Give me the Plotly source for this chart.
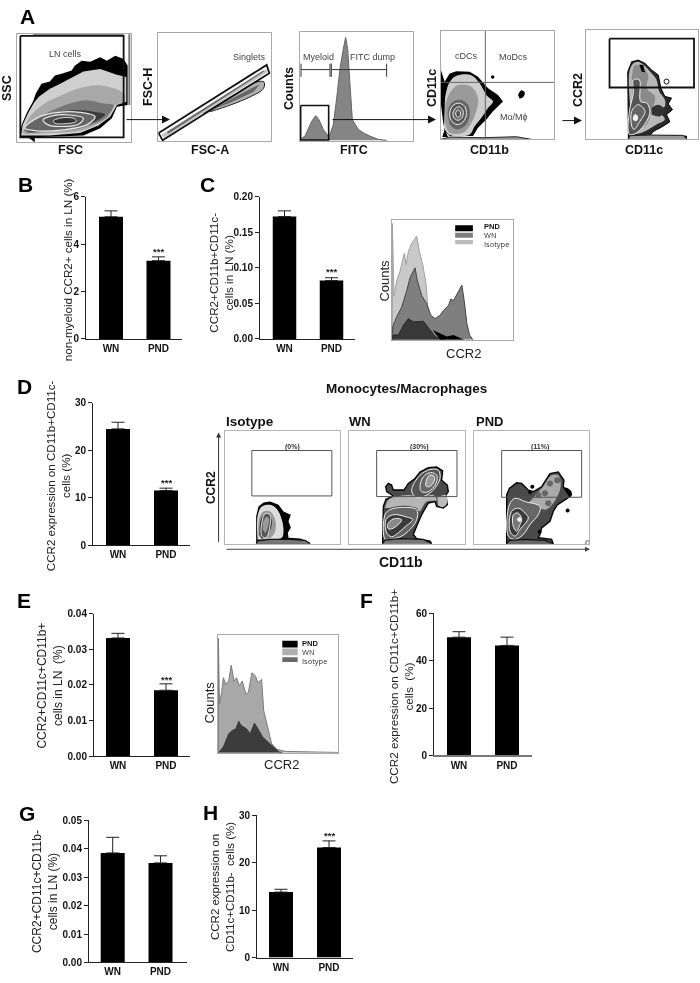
import plotly.graph_objects as go

W, H = 700, 983
FONT = "Liberation Sans"

# ---------- bar chart data ----------
groups = ["WN", "PND"]
b_values = [5.15, 3.3];      b_errors = [0.25, 0.16];     b_ticks = [0, 2, 4, 6]
c_values = [0.172, 0.082];   c_errors = [0.008, 0.004];   c_ticks = [0, 0.05, 0.10, 0.15, 0.20]
d_values = [24.5, 11.5];     d_errors = [1.4, 0.5];       d_ticks = [0, 10, 20, 30]
e_values = [0.0332, 0.0185]; e_errors = [0.0013, 0.0018]; e_ticks = [0, 0.01, 0.02, 0.03, 0.04]
f_values = [50, 46.5];       f_errors = [2.3, 3.5];       f_ticks = [0, 20, 40, 60]
g_values = [0.0385, 0.035];  g_errors = [0.0055, 0.0025]; g_ticks = [0, 0.01, 0.02, 0.03, 0.04, 0.05]
h_values = [13.8, 23.2];     h_errors = [0.6, 1.4];       h_ticks = [0, 10, 20, 30]

# ---------- histogram outlines (channel, count units) ----------
FITC_HIST = [(15,348),(20,342),(30,335),(40,315),(50,290),(62,273),(72,285),(85,315),(100,335),(105,330),(115,300),(125,220),(135,130),(145,70),(152,35),(158,70),(165,170),(172,285),(190,315),(205,325),(225,335),(250,345),(275,348)]
C_ISOTYPE = [(1177,520),(1177,165),(1182,385),(1190,340),(1200,310),(1208,270),(1213,255),(1218,290),(1225,250),(1235,225),(1250,203),(1258,250),(1268,290),(1278,350),(1283,420),(1290,450),(1300,490),(1310,510),(1330,518),(1340,520)]
C_WN = [(1178,520),(1178,480),(1190,450),(1205,420),(1220,370),(1230,330),(1245,300),(1252,340),(1265,385),(1280,410),(1292,445),(1305,455),(1320,445),(1330,430),(1345,415),(1352,395),(1360,400),(1370,380),(1385,353),(1392,400),(1400,470),(1408,505),(1418,520)]
C_PND = [(1178,520),(1180,505),(1195,505),(1210,475),(1225,455),(1240,465),(1270,463),(1290,490),(1305,510),(1320,518),(1335,520)]
C_PND2 = [(1298,490),(1320,500),(1340,510),(1360,505),(1380,515),(1392,520),(1320,520)]
E_WN = [(611,528),(611,180),(614,380),(620,345),(625,300),(632,320),(640,310),(647,262),(655,310),(662,300),(670,325),(678,310),(688,350),(695,345),(705,285),(715,295),(722,315),(732,305),(738,400),(750,450),(760,500),(775,518),(800,524),(946,527),(946,528)]
E_PND = [(611,528),(625,510),(640,470),(650,460),(660,455),(668,432),(675,445),(690,455),(700,470),(712,438),(722,455),(735,480),(750,495),(765,510),(780,525),(790,528)]

# ---------- flow cytometry density contours (channel units) ----------
A1_L0 = [(60,398),(66,360),(82,322),(100,288),(108,265),(125,235),(150,228),(165,210),(185,205),(215,195),(225,180),(245,165),(270,168),(300,155),(320,165),(345,150),(370,160),(382,180),(382,300),(350,305),(335,340),(300,370),(250,392),(150,396)]
A1_L1 = [(64,392),(69,360),(85,325),(103,292),(118,274),(135,262),(150,250),(175,238),(215,218),(250,198),(300,190),(350,208),(378,215),(378,290),(350,300),(330,335),(295,362),(240,385),(150,392),(75,392)]
A1_L2 = [(68,385),(90,335),(130,298),(190,268),(240,248),(300,240),(370,265),(372,290),(345,300),(325,335),(290,358),(240,378),(150,385),(80,388)]
A1_L3 = [(72,378),(115,340),(160,315),(210,295),(260,285),(310,295),(340,300),(320,335),(285,355),(235,372),(150,380),(85,385)]
A1_L4 = [(80,375),(130,335),(180,320),(230,315),(280,320),(315,328),(285,350),(230,368),(150,377),(90,382)]
A1_R1 = [(75,370),(120,335),(175,322),(240,322),(285,335),(260,360),(190,375),(110,378),(75,370)]
A1_R2 = [(130,345),(160,332),(210,330),(250,340),(235,358),(185,365),(145,360),(130,345)]
A1_R3 = [(160,348),(190,338),(225,342),(228,350),(190,357),(165,355),(160,348)]
A1_EDGE = [(384,85),(390,85),(390,300),(384,300)]
A1_TOP = [(100,85),(370,85),(370,90),(100,90)]
A1_FOOT = [(85,398),(105,398),(105,413),(95,405)]
A1_GATE = [(62,90),(370,90),(370,398),(62,398),(62,90)]

A2_GATE = [(475,385),(800,178),(808,203),(487,407),(475,385)]
A2_STRIPE = [(483,390),(798,190),(802,200),(492,400)]
A2_CORE = [(500,382),(790,195),(792,198),(503,387)]
A2_TAIL = [(610,325),(700,270),(770,230),(792,230),(790,250),(750,275),(690,300),(630,320)]
A2_TAIL2 = [(640,312),(710,272),(780,236),(760,260),(690,293)]

A3_MYELOID = [(18,133),(105,133)]
A3_CAP1 = [(18,115),(18,155)]
A3_CAP2 = [(105,115),(105,155)]
A3_CAP3 = [(109,115),(109,155)]
A3_DUMP = [(109,133),(275,133)]
A3_CAP4 = [(275,115),(275,155)]
A3_GATE = [(17,242),(101,242),(101,347),(17,347),(17,242)]

A4_QV = [(407,75),(407,405)]
A4_QH = [(274,232),(613,232)]
A4_L0 = [(274,195),(285,230),(300,205),(320,198),(360,200),(385,215),(415,250),(445,270),(460,290),(430,320),(410,345),(385,370),(370,395),(300,395),(285,380),(280,350),(274,300)]
A4_L1 = [(286,280),(298,235),(320,212),(365,210),(390,235),(410,270),(430,290),(415,310),(395,340),(375,365),(360,390),(300,392),(283,370)]
A4_L2 = [(287,300),(300,265),(325,240),(365,245),(385,280),(380,320),(365,355),(340,385),(300,385),(286,355)]
A4_L3 = [(293,325),(305,295),(330,285),(355,300),(360,335),(345,365),(320,375),(300,360)]
A4_R1 = [(300,325),(310,302),(328,295),(345,305),(350,330),(340,352),(322,360),(305,348),(300,325)]
A4_R2 = [(310,325),(318,310),(330,306),(340,318),(338,338),(325,347),(313,340),(310,325)]
A4_R3 = [(318,325),(325,316),(332,322),(331,335),(323,338),(318,325)]
A4_STRIP = [(274,405),(300,398),(400,400),(500,397),(545,405)]
A4_FOOT = [(278,398),(285,375),(295,398)]
A4_SPOT = [(505,270),(515,256),(525,262),(522,275),(510,282)]
A4_DOT_X = [429]; A4_DOT_Y = [216]

A5_GATE = [(778,100),(1033,100),(1033,248),(778,248),(778,100)]
A5_L0 = [(835,405),(833,200),(845,170),(865,165),(885,175),(905,195),(925,210),(933,250),(945,275),(965,280),(955,298),(968,315),(950,330),(960,352),(935,368),(912,380),(900,393),(1010,395),(1010,405)]
A5_L1 = [(840,300),(838,200),(850,175),(870,172),(905,205),(920,225),(928,260),(945,285),(945,305),(930,320),(945,345),(920,360),(895,375),(875,385),(845,390)]
A5_L2 = [(845,220),(855,180),(875,185),(895,210),(890,250),(915,275),(905,320),(890,360),(870,370),(850,330)]
A5_SPOT = [(905,310),(925,300),(945,315),(930,335),(905,330)]
A5_TICK = [(868,178),(880,180),(885,202),(875,200)]
A5_R1 = [(838,390),(838,320),(850,265),(850,225),(868,225),(872,290),(890,295),(900,320),(890,350),(860,385),(838,390)]
A5_R2 = [(845,365),(845,320),(865,300),(885,320),(870,350),(852,375),(845,365)]
A5_R3 = [(850,345),(855,330),(862,335),(860,348),(850,345)]
A5_STRIP = [(835,405),(840,394),(900,392),(1000,393),(1012,405)]
A5_DOT_X = [950]; A5_DOT_Y = [230]

D_ISO_L0 = [(108,313),(108,230),(115,200),(130,188),(150,185),(175,195),(190,215),(212,225),(205,245),(212,265),(203,280),(205,295),(240,297),(270,310),(270,313)]
D_ISO_L1 = [(112,300),(113,225),(125,200),(150,195),(170,208),(185,240),(190,275),(185,295),(150,300)]
D_ISO_L2 = [(115,290),(117,235),(130,215),(150,215),(165,240),(165,275),(150,295),(125,298)]
D_ISO_L3 = [(118,285),(122,240),(135,222),(152,228),(155,255),(140,290),(125,298)]
D_ISO_R1 = [(125,250),(135,222),(150,225),(150,255),(138,295),(125,290),(125,250)]
D_ISO_R2 = [(128,250),(138,232),(146,235),(145,255),(135,280),(128,270)]
D_ISO_STRIP = [(108,313),(112,305),(150,300),(210,300),(255,303),(270,313)]

D_WN_L0 = [(488,313),(490,200),(498,178),(520,168),(500,155),(497,140),(505,130),(515,135),(520,150),(552,150),(565,130),(585,115),(600,95),(625,82),(650,80),(668,92),(665,120),(682,135),(685,155),(678,165),(682,195),(670,205),(650,200),(645,185),(625,190),(605,225),(590,260),(580,285),(590,298),(630,305),(635,313)]
D_WN_BAND = [(495,205),(505,180),(530,170),(570,165),(600,172),(640,165),(650,180),(620,185),(598,215),(590,205),(545,198),(510,205)]
D_WN_SIDE = [(652,172),(678,165),(680,192),(668,202),(654,196)]
D_WN_U1 = [(575,150),(600,105),(630,88),(655,90),(660,115),(640,150),(610,170),(585,170),(575,150)]
D_WN_U2 = [(600,140),(610,110),(632,97),(650,105),(648,130),(625,155),(605,155),(600,140)]
D_WN_U3 = [(618,125),(628,105),(642,108),(642,125),(628,140),(618,138),(618,125)]
D_WN_D1 = [(495,300),(495,225),(510,210),(545,203),(590,210),(590,240),(570,270),(545,290),(510,300),(495,300)]
D_WN_D2 = [(500,280),(498,240),(520,225),(560,232),(578,240),(555,262),(535,280),(515,292),(500,280)]
D_WN_D3 = [(503,255),(520,238),(545,240),(535,255),(515,268),(505,268),(503,255)]
D_WN_STRIP = [(488,313),(495,302),(540,298),(610,300),(635,313)]

D_PND_L0 = [(110,313),(110,165),(118,145),(140,128),(155,130),(175,150),(190,155),(215,140),(240,100),(265,95),(282,120),(280,140),(300,170),(285,180),(262,195),(250,215),(240,245),(215,265),(210,285),(205,295),(245,300),(250,313)]
D_PND_UP = [(175,190),(215,145),(245,105),(265,105),(272,125),(270,150),(250,190),(225,210),(190,190)]
D_PND_SPOT = [(273,148),(285,142),(303,152),(305,168),(285,170),(272,160)]
D_PND_R1 = [(115,290),(118,195),(135,175),(165,185),(210,200),(205,225),(180,255),(160,285),(135,300),(115,290)]
D_PND_R2 = [(120,275),(125,215),(145,205),(165,220),(175,235),(150,270),(135,290),(120,275)]
D_PND_R3 = [(130,260),(130,225),(145,220),(155,240),(150,255),(140,275),(130,260)]
D_PND_CORE = [(140,240),(148,232),(156,240),(148,248)]
D_PND_STRIP = [(110,313),(118,303),(160,300),(225,303),(250,313)]
D_PND_SPECK_X = [187, 180, 293, 209]
D_PND_SPECK_Y = [140, 157, 212, 277]
D_PND_RING_X = [353]; D_PND_RING_Y = [310]
D_PND_MOTTLE_X = [240, 225, 205, 235, 262]
D_PND_MOTTLE_Y = [130, 160, 165, 190, 120]

D_GATE_ISO = [(95,30),(335,30),(335,168),(95,168),(95,30)]
D_GATE_WN = [(470,30),(711,30),(711,170),(470,170),(470,30)]
D_GATE_PND = [(95,30),(335,30),(335,172),(95,172),(95,30)]

fig = go.Figure()
layout = {}
axn = 0
annotations = []


def new_axes(left, right, top, bottom, xaxis, yaxis):
    global axn
    axn += 1
    s = "" if axn == 1 else str(axn)
    layout["xaxis" + s] = dict(domain=[left / W, right / W], anchor="y" + s, **xaxis)
    layout["yaxis" + s] = dict(domain=[1 - bottom / H, 1 - top / H], anchor="x" + s, **yaxis)
    return "x" + s, "y" + s


def txt(s, x, y, size=10, bold=False, color="#111", angle=0, anchor="center", font=FONT):
    annotations.append(dict(text=s, x=x / W, y=1 - y / H, xref="paper", yref="paper", showarrow=False,
                            xanchor=anchor, yanchor="middle", textangle=angle, borderpad=0,
                            font=dict(family=font, size=size, color=color, weight="bold" if bold else "normal")))


def arrow(x, y, ax, ay, color="#111", width=1, size=1.0):
    annotations.append(dict(text="", x=x / W, y=1 - y / H, xref="paper", yref="paper", showarrow=True,
                            ax=ax, ay=ay, axref="pixel", ayref="pixel", arrowhead=2, arrowsize=size,
                            arrowwidth=width, arrowcolor=color))


def bar_panel(values, errors, ticks, top, bottom, left, right, centers, bw, fmt, ticksize=10,
              basecolor="#222", basewidth=1):
    unit = centers[1] - centers[0]
    x0 = (left - centers[0]) / unit
    x1 = (right - centers[0]) / unit
    xa, ya = new_axes(left, right, top, bottom,
                      dict(range=[x0, x1], tickmode="array", tickvals=[0, 1], ticktext=groups, ticks="",
                           showline=True, linecolor=basecolor, linewidth=basewidth, showgrid=False, zeroline=False,
                           tickfont=dict(family=FONT, size=ticksize, color="#111", weight="bold")),
                      dict(range=[0, ticks[-1]], tickmode="array", tickvals=ticks, tickformat=fmt, ticks="outside",
                           ticklen=4, tickwidth=1, tickcolor="#222", showline=True, linecolor="#222", linewidth=1,
                           showgrid=False, zeroline=False,
                           tickfont=dict(family=FONT, size=ticksize, color="#111", weight="bold")))
    fig.add_trace(go.Bar(x=[0, 1], y=values, width=bw / unit, marker=dict(color="#000", line=dict(width=0)),
                         error_y=dict(type="data", symmetric=False, array=errors, arrayminus=[0, 0],
                                      color="#222", thickness=1, width=6.5),
                         xaxis=xa, yaxis=ya, hoverinfo="skip", showlegend=False))


def panel(left, right, top, bottom, xr, yr, frame="#aaaaaa", fw=1.3):
    common = dict(showticklabels=False, ticks="", showgrid=False, zeroline=False, showline=True, mirror=True,
                  linecolor=frame, linewidth=fw)
    return new_axes(left, right, top, bottom, dict(range=xr, **common), dict(range=yr, **common))


def poly(ax, pts, fill=None, line=None, lw=1, spline=False):
    xs = [p[0] for p in pts]
    ys = [p[1] for p in pts]
    fig.add_trace(go.Scatter(x=xs, y=ys, mode="lines", fill="toself" if fill else "none", fillcolor=fill,
                             line=dict(color=line or "rgba(0,0,0,0)", width=lw,
                                       shape="spline" if spline else "linear"),
                             xaxis=ax[0], yaxis=ax[1], hoverinfo="skip", showlegend=False))


def dots(ax, xs, ys, size, color="#000", symbol="circle", lw=0):
    fig.add_trace(go.Scatter(x=xs, y=ys, mode="markers", marker=dict(size=size, color=color, symbol=symbol,
                                                                      line=dict(width=lw, color=color)),
                             xaxis=ax[0], yaxis=ax[1], hoverinfo="skip", showlegend=False))


# ---------- panel A ----------
ax = panel(17, 131, 28, 138, [52, 392], [413, 83])
poly(ax, A1_EDGE, "#777777")
poly(ax, A1_TOP, "#666666")
poly(ax, A1_L0, "#000000")
poly(ax, A1_L1, "#cfcfcf")
poly(ax, A1_L2, "#a8a8a8", spline=True)
poly(ax, A1_L3, "#777777", spline=True)
poly(ax, A1_L4, "#3c3c3c", spline=True)
poly(ax, A1_R1, "#666666", "#e8e8e8", 1.2, True)
poly(ax, A1_R2, "#555555", "#e8e8e8", 1.2, True)
poly(ax, A1_R3, "#333333", "#dddddd", 1, True)
poly(ax, A1_FOOT, "#000000")
poly(ax, A1_GATE, None, "#111111", 1.8)

ax = panel(158, 271, 27, 137, [473, 813], [410, 80])
poly(ax, A2_TAIL, "#b0b0b0", "#222222", 1, True)
poly(ax, A2_TAIL2, "#666666", None)
poly(ax, A2_STRIPE, "#c4c4c4")
poly(ax, A2_CORE, "#666666")
poly(ax, A2_GATE, None, "#111111", 1.8)

ax = panel(300, 413.3, 26.7, 136.7, [15, 355], [350, 20])
poly(ax, FITC_HIST, "#858585", "#666666", 1)
for seg in (A3_MYELOID, A3_CAP1, A3_CAP2, A3_CAP3, A3_DUMP, A3_CAP4):
    poly(ax, seg, None, "#333333", 1)
poly(ax, A3_GATE, None, "#111111", 1.6)

ax = panel(441, 554, 25, 135, [274, 613], [405, 75])
poly(ax, A4_L0, "#000000", spline=False)
poly(ax, A4_L1, "#cdcdcd", spline=True)
poly(ax, A4_L2, "#9a9a9a", spline=True)
poly(ax, A4_L3, "#666666", spline=True)
poly(ax, A4_R1, "#555555", "#eeeeee", 1, True)
poly(ax, A4_R2, "#666666", "#eeeeee", 1, True)
poly(ax, A4_R3, "#555555", "#eeeeee", 1, True)
poly(ax, A4_FOOT, "#000000")
poly(ax, A4_STRIP, "#999999", "#222222", 1)
poly(ax, A4_SPOT, "#000000", spline=True)
dots(ax, A4_DOT_X, A4_DOT_Y, 3.5)
poly(ax, A4_QV, None, "#666666", 1)
poly(ax, A4_QH, None, "#666666", 1)

ax = panel(586, 698, 24, 135, [707, 1045], [405, 73])
poly(ax, A5_L0, "#2a2a2a", "#000000", 1)
poly(ax, A5_L1, "#b8b8b8", spline=True)
poly(ax, A5_L2, "#8a8a8a", spline=True)
poly(ax, A5_SPOT, "#333333", spline=True)
poly(ax, A5_TICK, "#000000")
poly(ax, A5_R1, "#555555", "#eeeeee", 1, True)
poly(ax, A5_R2, "#666666", "#eeeeee", 1, True)
poly(ax, A5_R3, "#f4f4f4", "#ffffff", 1, True)
poly(ax, A5_STRIP, "#999999", "#222222", 1)
dots(ax, A5_DOT_X, A5_DOT_Y, 5, "#111111", "circle-open", 1)
poly(ax, A5_GATE, None, "#111111", 1.8)

# ---------- panel C histogram ----------
ax = panel(392, 513, 217, 338, [1176, 1538], [520, 155])
poly(ax, C_ISOTYPE, "#c9c9c9", "#a0a0a0", 1)
poly(ax, C_WN, "#7f7f7f", "#444444", 1)
poly(ax, C_PND2, "#000000")
poly(ax, C_PND, "#383838", "#222222", 0.8)
poly(ax, [(1365, 170), (1418, 170), (1418, 188), (1365, 188)], "#000000")
poly(ax, [(1365, 193), (1418, 193), (1418, 208), (1365, 208)], "#7f7f7f")
poly(ax, [(1365, 215), (1418, 215), (1418, 228), (1365, 228)], "#bcbcbc")

# ---------- panel E histogram ----------
ax = panel(218, 338, 636.7, 756, [610, 946], [528, 170])
poly(ax, E_WN, "#a8a8a8", "#7a7a7a", 1)
poly(ax, E_PND, "#3c3c3c", "#333333", 0.8)
poly(ax, [(790, 188), (833, 188), (833, 208), (790, 208)], "#000000")
poly(ax, [(790, 211), (833, 211), (833, 232), (790, 232)], "#b0b0b0")
poly(ax, [(790, 238), (833, 238), (833, 252), (790, 252)], "#6a6a6a")

# ---------- panel D contour plots ----------
ax = panel(224.5, 339.5, 430, 544.3, [13, 358], [313, -30], "#b5b5b5")
poly(ax, D_ISO_L0, "#000000")
poly(ax, D_ISO_L1, "#dddddd", spline=True)
poly(ax, D_ISO_L2, "#999999", spline=True)
poly(ax, D_ISO_L3, "#333333", spline=True)
poly(ax, D_ISO_R1, "#555555", "#eeeeee", 1, True)
poly(ax, D_ISO_R2, "#999999", spline=True)
poly(ax, D_ISO_STRIP, "#777777", "#111111", 1.2)
poly(ax, D_GATE_ISO, None, "#555555", 1)

ax = panel(349.3, 465, 430, 544.3, [388, 735], [313, -30], "#b5b5b5")
poly(ax, D_WN_L0, "#4a4a4a", "#000000", 1.3)
poly(ax, D_WN_BAND, "#b5b5b5", spline=True)
poly(ax, D_WN_SIDE, "#bbbbbb", spline=True)
poly(ax, D_WN_U1, "#555555", "#eeeeee", 1, True)
poly(ax, D_WN_U2, "#666666", "#eeeeee", 1, True)
poly(ax, D_WN_U3, "#999999", "#eeeeee", 1, True)
poly(ax, D_WN_D1, "#666666", "#eeeeee", 1, True)
poly(ax, D_WN_D2, "#3a3a3a", "#eeeeee", 1, True)
poly(ax, D_WN_D3, "#888888", "#eeeeee", 1, True)
poly(ax, D_WN_STRIP, "#777777", "#111111", 1.2)
poly(ax, D_GATE_WN, None, "#555555", 1)

ax = panel(474.3, 589.3, 430, 545, [13, 358], [315, -30], "#b5b5b5")
poly(ax, D_PND_SPOT, "#000000", spline=True)
poly(ax, D_PND_L0, "#4a4a4a", "#000000", 1.3)
poly(ax, D_PND_UP, "#aaaaaa", spline=True)
dots(ax, D_PND_MOTTLE_X, D_PND_MOTTLE_Y, 6, "#666666")
poly(ax, D_PND_R1, "#666666", "#eeeeee", 1, True)
poly(ax, D_PND_R2, "#3a3a3a", "#eeeeee", 1, True)
poly(ax, D_PND_R3, "#777777", "#eeeeee", 1, True)
poly(ax, D_PND_CORE, "#f0f0f0", spline=True)
poly(ax, D_PND_STRIP, "#666666", "#111111", 1.2)
dots(ax, D_PND_SPECK_X, D_PND_SPECK_Y, 4)
dots(ax, D_PND_RING_X, D_PND_RING_Y, 4, "#555555", "circle-open", 1)
poly(ax, D_GATE_PND, None, "#555555", 1)

# ---------- bar panels ----------
bar_panel(b_values, b_errors, b_ticks, 193, 337, 86, 182, [111, 158.5], 24, ".0f")
bar_panel(c_values, c_errors, c_ticks, 193, 337, 260, 355, [284.5, 331.5], 23.5, ".2f")
bar_panel(d_values, d_errors, d_ticks, 401.7, 545.7, 93, 190, [118, 166], 24, ".0f")
bar_panel(e_values, e_errors, e_ticks, 615.3, 759.3, 94, 190, [118, 166], 24, ".2f")
bar_panel(f_values, f_errors, f_ticks, 615, 758.7, 434, 532, [459, 507], 24, ".0f",
          basecolor="#777777", basewidth=1.5)
bar_panel(g_values, g_errors, g_ticks, 824.3, 968.3, 89, 187, [112.7, 160.5], 24, ".2f")
bar_panel(h_values, h_errors, h_ticks, 819.3, 963.3, 257, 353, [281, 329], 24, ".0f")

# ---------- text ----------
for s, x, y in [("A", 27, 11), ("B", 25, 181), ("C", 207, 181), ("D", 24.5, 385), ("E", 24, 602),
                ("F", 366, 602), ("G", 27, 817), ("H", 210, 816)]:
    txt(s, x, y, size=21, bold=True, color="#000")

for s, x, y, a in [("SSC", 7, 83, -90), ("FSC", 70, 146, 0), ("FSC-H", 148, 82, -90), ("FSC-A", 210, 146, 0),
                   ("Counts", 289, 84, -90), ("FITC", 354, 146, 0), ("CD11c", 432, 83, -90), ("CD11b", 489, 146, 0),
                   ("CCR2", 578, 85, -90), ("CD11c", 644, 146, 0)]:
    txt(s, x, y, size=12.5, bold=True, color="#111", angle=a)

for s, x, y in [("LN cells", 65, 49), ("Singlets", 249, 52), ("Myeloid", 318, 52), ("FITC dump", 373, 52),
                ("cDCs", 466, 51), ("MoDcs", 513, 52), ("Mo/M\u03d5", 514, 112)]:
    txt(s, x, y, size=9, color="#444")

txt("non-myeloid CCR2+ cells in LN (%)", 67.5, 267, size=11.6, angle=-90, color="#222")
txt("CCR2+CD11b+CD11c-<br>cells in LN (%)", 221, 270, size=11.7, angle=-90, color="#222")
txt("CCR2 expression on CD11b+CD11c-<br>cells (%)", 58, 475, size=11.6, angle=-90, color="#222")
txt("CCR2+CD11c+CD11b+<br>cells in LN  (%)", 50, 688, size=12, angle=-90, color="#222")
txt("CCR2 expression on CD11c+CD11b+<br>cells  (%)", 400.5, 689, size=11.7, angle=-90, color="#222")
txt("CCR2+CD11c+CD11b-<br>cells in LN (%)", 45, 896, size=12, angle=-90, color="#222")
txt("CCR2 expression on<br>CD11c+CD11b-  cells (%)", 222, 892, size=11.5, angle=-90, color="#222")

for x, y in [(158.5, 249), (331.5, 269), (166, 482), (166, 682), (329, 840)]:
    txt("***", x, y, size=9.5, bold=True, color="#222")

txt("Counts", 385, 278, size=13, angle=-90, color="#222")
txt("CCR2", 463, 352, size=13, color="#222")
txt("Counts", 209, 705, size=13, angle=-90, color="#222")
txt("CCR2", 281, 768, size=13, color="#222")

txt("PND", 483, 223, size=7.5, bold=True, anchor="left", color="#111")
txt("WN", 483, 232, size=7.5, anchor="left", color="#333", font="Open Sans")
txt("Isotype", 483, 241, size=7.5, anchor="left", color="#333", font="Open Sans")
txt("PND", 301, 645, size=7.5, bold=True, anchor="left", color="#111")
txt("WN", 301, 654, size=7.5, anchor="left", color="#333", font="Open Sans")
txt("Isotype", 301, 663, size=7.5, anchor="left", color="#333", font="Open Sans")

txt("Monocytes/Macrophages", 406, 387, size=13.5, bold=True, color="#111")
txt("Isotype", 250, 421, size=13.5, bold=True, color="#111")
txt("WN", 360, 421, size=13, bold=True, color="#111")
txt("PND", 490, 421, size=13, bold=True, color="#111")
txt("CCR2", 211, 488, size=12, bold=True, angle=-90, color="#111")
txt("CD11b", 401, 563, size=14, bold=True, color="#111")
txt("(0%)", 292, 446, size=7, bold=True, color="#333")
txt("(30%)", 419.5, 446, size=7, bold=True, color="#333")
txt("(11%)", 540, 446, size=7, bold=True, color="#333")

# ---------- arrows ----------
arrow(170, 115, -45, 0, size=1.6)
arrow(436, 115, -105, 0, size=1.6)
arrow(582, 116, -21, 0, size=1.6)
arrow(218.6, 431.7, 0, 111, "#333333")
arrow(590, 550, -365, 0, "#444444")

fig.update_layout(width=W, height=H, autosize=False, margin=dict(l=0, r=0, t=0, b=0),
                  paper_bgcolor="#ffffff", plot_bgcolor="rgba(0,0,0,0)", showlegend=False,
                  barmode="overlay", annotations=annotations, **layout)
fig.write_html("out.html",
               post_script="document.body.style.margin='0';document.body.style.overflow='hidden';"
                           "document.querySelector('.plotly-graph-div').style.filter='blur(0.45px)';",
               config={"displayModeBar": False})
